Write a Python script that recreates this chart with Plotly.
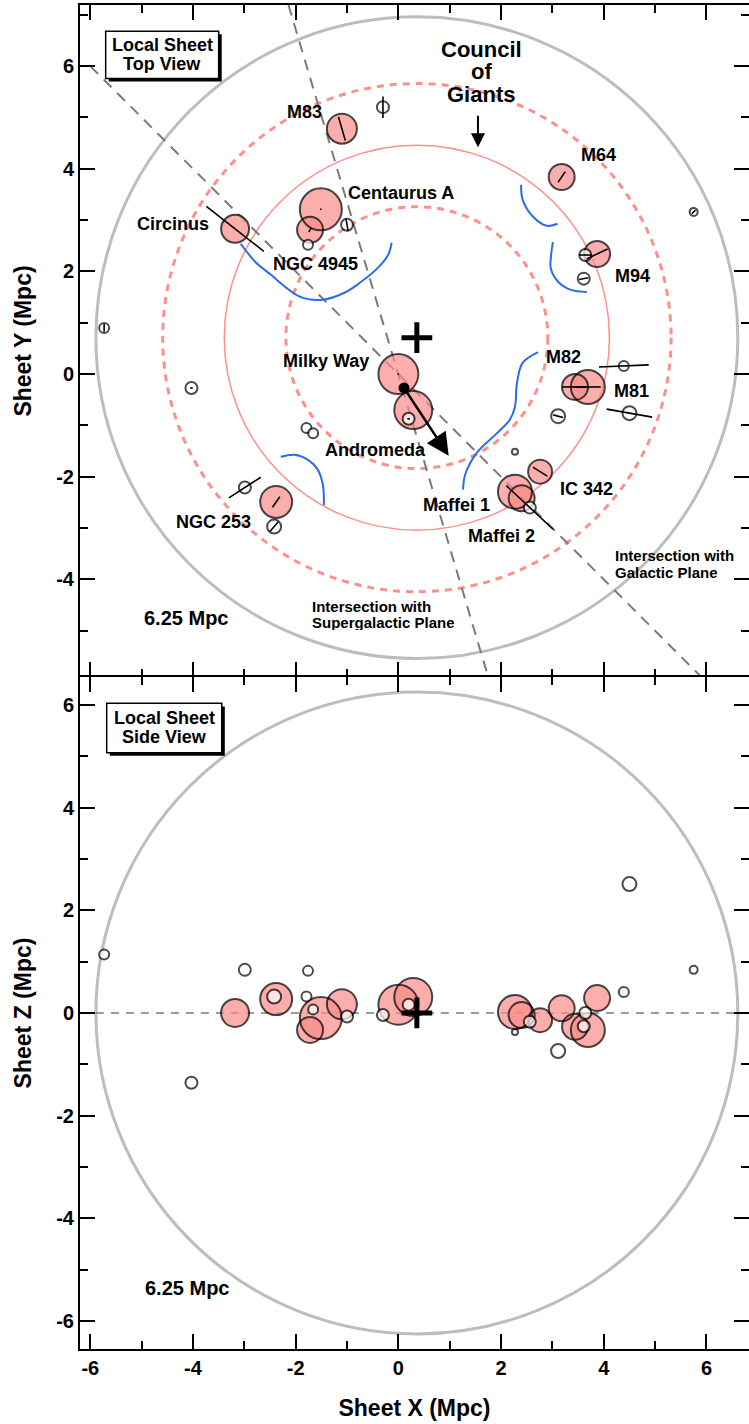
import plotly.graph_objects as go
import numpy as np

# ---------------- data (Mpc) ----------------
gal_name = ["M83", "", "Centaurus A", "NGC 4945", "", "", "Circinus", "M64", "", "M94", "", "",
            "M82", "M81", "", "", "", "", "IC 342", "Maffei 1", "", "Maffei 2", "Milky Way", "Andromeda",
            "", "", "", "", "", "NGC 253", "", ""]
gal_x = [-1.10, -0.30, -1.51, -1.72, -1.00, -1.76, -3.18, 3.18, 5.75, 3.87, 3.64, 3.61,
         3.44, 3.69, 4.39, 4.50, 3.11, 2.27, 2.76, 2.27, 2.40, 2.56, 0.00, 0.29,
         0.20, -1.79, -1.66, -4.03, -5.73, -2.38, -2.42, -2.99]
gal_y = [4.78, 5.20, 3.21, 2.81, 2.91, 2.52, 2.83, 3.84, 3.16, 2.34, 2.32, 1.86,
         -0.25, -0.25, 0.16, -0.76, -0.82, -1.51, -1.90, -2.29, -2.42, -2.60, 0.00, -0.70,
         -0.87, -1.05, -1.15, -0.27, 0.90, -2.49, -2.97, -2.21]
gal_z = [0.17, -0.04, -0.10, -0.33, -0.07, 0.82, 0.00, 0.09, 0.84, 0.29, 0.00, -0.26,
         -0.27, -0.33, 0.41, 2.51, -0.74, -0.37, -0.14, 0.02, -0.04, -0.17, 0.16, 0.31,
         0.16, 0.32, 0.07, -1.36, 1.14, 0.27, 0.32, 0.84]
gal_r = [15, 6, 21, 13, 6, 5, 14, 13, 4, 13, 6, 6,
         13, 17, 5, 7, 7, 3, 12, 17, 13, 6, 20, 19,
         6, 5, 5, 6, 5, 16, 7, 6]
gal_giant = [1, 0, 1, 1, 0, 0, 1, 1, 0, 1, 0, 0,
             1, 1, 0, 0, 0, 0, 1, 1, 1, 0, 1, 1,
             0, 0, 0, 0, 0, 1, 0, 0]
gal_ang = [106, 90, 0, 60, 100, 0, -38, 56, 45, 25, 0, 10,
           0, 0, 2.4, -10, -15, 0, -32, -43, 0, -43, 0, 0,
           0, 0, 0, 0, 90, 55, 50, 33]
gal_len = [0.48, 0.42, 0.03, 0.10, 0.25, 0.0, 1.42, 0.25, 0.10, 0.45, 0.25, 0.18,
           0.50, 0.50, 0.97, 0.90, 0.20, 0.0, 0.33, 0.0, 0.0, 1.25, 0.03, 0.0,
           0.05, 0.0, 0.0, 0.05, 0.15, 0.25, 0.25, 0.74]

ring_cx, ring_cy, ring_cz = 0.36, 0.71, 0.0
ring_r = 3.75
ring_r_in = 2.55
ring_r_out = 4.95
sphere_r = 6.25

gp_x = [-6.0, 5.9]          # galactic plane intersection
gp_y = [6.0, -5.9]
sgp_x = [-2.14, 1.75]       # supergalactic plane intersection
sgp_y = [7.19, -5.9]

arc1_x = [-3.07, -2.79, -2.50, -1.92, -1.47, -1.04, -0.75, -0.40, -0.20, -0.13]
arc1_y = [2.54, 2.19, 1.95, 1.51, 1.45, 1.59, 1.78, 2.07, 2.32, 2.56]
arc2_x = [2.39, 2.42, 2.61, 2.89, 3.10]
arc2_y = [3.69, 3.40, 3.08, 2.89, 2.93]
arc3_x = [3.01, 2.97, 2.97, 3.11, 3.36, 3.67]
arc3_y = [2.57, 2.28, 2.05, 1.80, 1.64, 1.60]
arc4_x = [2.72, 2.42, 2.31, 2.27, 2.17, 1.92, 1.53, 1.30, 1.26]
arc4_y = [0.43, 0.22, -0.17, -0.64, -0.89, -1.15, -1.53, -1.96, -2.25]
arc5_x = [-2.29, -2.02, -1.76, -1.57, -1.47, -1.45]
arc5_y = [-1.61, -1.57, -1.67, -1.86, -2.16, -2.55]

motion_x = [0.11, 0.98]     # Local Sheet motion arrow
motion_y = [-0.27, -1.59]

major_ticks = [-6, -4, -2, 0, 2, 4, 6]
minor_ticks = [-7, -5, -3, -1, 1, 3, 5, 7]

# ---------------- styles ----------------
PINK = "#F98C88"
RING = "#FF8F8C"
GRAY = "#BDBDBD"
DGRAY = "#7A7A7A"
BLUE = "#2B6BF0"
FONT = "Liberation Sans, Arial, Helvetica, sans-serif"

XR = [-6.2, 6.828]
YR1 = [-5.90, 7.19]
YR2 = [-6.544, 6.543]

fig = go.Figure()

gx = np.array(gal_x); gy = np.array(gal_y); gz = np.array(gal_z)
gr = np.array(gal_r); giant = np.array(gal_giant, bool)

def circle_shape(xr, yr, cx, cy, r, color, width, dash=None):
    d = dict(type="circle", xref=xr, yref=yr, x0=cx - r, x1=cx + r, y0=cy - r, y1=cy + r,
             line=dict(color=color, width=width), layer="below")
    if dash:
        d["line"]["dash"] = dash
    return d

shapes = []
shapes.append(circle_shape("x", "y", ring_cx, ring_cy, sphere_r, GRAY, 3))
shapes.append(circle_shape("x", "y", ring_cx, ring_cy, ring_r_out, RING, 3, "7px,6px"))
shapes.append(circle_shape("x", "y", ring_cx, ring_cy, ring_r_in, RING, 3, "7px,6px"))
shapes.append(circle_shape("x", "y", ring_cx, ring_cy, ring_r, RING, 1.5))
shapes.append(circle_shape("x2", "y2", ring_cx, ring_cz, sphere_r, GRAY, 3))

for (xx, yy) in [(gp_x, gp_y), (sgp_x, sgp_y)]:
    fig.add_trace(go.Scatter(x=xx, y=yy, mode="lines", xaxis="x", yaxis="y",
                             line=dict(color=DGRAY, width=2, dash="11px,8px"), hoverinfo="skip"))
fig.add_trace(go.Scatter(x=[ring_cx - sphere_r, ring_cx + sphere_r], y=[ring_cz, ring_cz], mode="lines",
                         xaxis="x2", yaxis="y2", line=dict(color=DGRAY, width=1.5, dash="8px,7px"),
                         hoverinfo="skip"))

for ax_, ay_ in [(arc1_x, arc1_y), (arc2_x, arc2_y), (arc3_x, arc3_y), (arc4_x, arc4_y), (arc5_x, arc5_y)]:
    fig.add_trace(go.Scatter(x=ax_, y=ay_, mode="lines", xaxis="x", yaxis="y",
                             line=dict(color=BLUE, width=2, shape="spline", smoothing=1.0), hoverinfo="skip"))

def galaxies(xv, yv, xa, ya):
    fig.add_trace(go.Scatter(x=xv[giant], y=yv[giant], mode="markers", xaxis=xa, yaxis=ya,
                             marker=dict(size=2 * gr[giant], color=PINK, line=dict(width=0)), hoverinfo="skip"))
    fig.add_trace(go.Scatter(x=xv[giant], y=yv[giant], mode="markers", xaxis=xa, yaxis=ya,
                             marker=dict(size=2 * gr[giant], color="rgba(0,0,0,0)",
                                         line=dict(width=2, color="black")), hoverinfo="skip"))
    fig.add_trace(go.Scatter(x=xv[~giant], y=yv[~giant], mode="markers", xaxis=xa, yaxis=ya,
                             marker=dict(size=2 * gr[~giant], color="white",
                                         line=dict(width=2, color="black")), hoverinfo="skip"))

galaxies(gx, gy, "x", "y")

lx, ly = [], []
for x0, y0, a, L in zip(gal_x, gal_y, gal_ang, gal_len):
    if L <= 0:
        continue
    t = np.deg2rad(a)
    lx += [x0 - 0.5 * L * np.cos(t), x0 + 0.5 * L * np.cos(t), None]
    ly += [y0 - 0.5 * L * np.sin(t), y0 + 0.5 * L * np.sin(t), None]
fig.add_trace(go.Scatter(x=lx, y=ly, mode="lines", xaxis="x", yaxis="y",
                         line=dict(color="black", width=1.6), hoverinfo="skip"))

fig.add_trace(go.Scatter(x=[motion_x[0]], y=[motion_y[0]], mode="markers", xaxis="x", yaxis="y",
                         marker=dict(size=11, color="black"), hoverinfo="skip"))
fig.add_trace(go.Scatter(x=[ring_cx], y=[ring_cy], mode="markers", xaxis="x", yaxis="y",
                         marker=dict(symbol="cross-thin", size=22, line=dict(width=5, color="black")),
                         hoverinfo="skip"))

galaxies(gx, gz, "x2", "y2")
fig.add_trace(go.Scatter(x=[ring_cx], y=[ring_cz], mode="markers", xaxis="x2", yaxis="y2",
                         marker=dict(symbol="cross-thin", size=22, line=dict(width=5, color="black")),
                         hoverinfo="skip"))

# invisible traces for the extra tick-only / frame axes
fig.add_trace(go.Scatter(x=[0], y=[0], mode="markers", xaxis="x", yaxis="y3", marker=dict(opacity=0),
                         hoverinfo="skip"))
fig.add_trace(go.Scatter(x=[0], y=[0], mode="markers", xaxis="x2", yaxis="y4", marker=dict(opacity=0),
                         hoverinfo="skip"))
fig.add_trace(go.Scatter(x=[0], y=[0], mode="markers", xaxis="x3", yaxis="y", marker=dict(opacity=0),
                         hoverinfo="skip"))

# ---------------- annotations ----------------
ann = []
def txt(x, y, s, size=17, xref="x", yref="y", xanchor="center", h=None):
    d = dict(x=x, y=y, xref=xref, yref=yref, text=s, showarrow=False, xanchor=xanchor,
             yanchor="middle", font=dict(family=FONT, size=size, color="black", weight="bold"))
    if h:
        d["height"] = h
    ann.append(d)

labels = [("M83", -1.82, 5.11), ("Centaurus A", 0.05, 3.52), ("Circinus", -4.39, 2.92),
          ("NGC 4945", -1.61, 2.15), ("M64", 3.90, 4.27), ("M94", 4.55, 1.91), ("M82", 3.22, 0.34),
          ("M81", 4.53, -0.32), ("IC 342", 3.67, -2.24), ("Maffei 1", 1.14, -2.54),
          ("Maffei 2", 2.00, -3.15), ("Milky Way", -1.41, 0.26), ("Andromeda", -0.44, -1.47),
          ("NGC 253", -3.61, -2.88)]
for s, x, y in labels:
    txt(x, y, s, 18)

txt(-4.14, -4.75, "6.25 Mpc", 20)
txt(-4.12, -5.36, "6.25 Mpc", 20, "x2", "y2")
txt(-1.72, -4.53, "Intersection with", 15, xanchor="left", h=15)
txt(-1.72, -4.83, "Supergalactic Plane", 15, xanchor="left", h=15)
txt(4.18, -3.52, "Intersection with", 15, xanchor="left", h=16)
txt(4.18, -3.85, "Galactic Plane", 15, xanchor="left", h=16)
txt(1.61, 6.32, "Council", 22, h=21)
txt(1.61, 5.89, "of", 22, h=21)
txt(1.61, 5.44, "Giants", 22, h=21)

def box(x0, x1, y0, y1, yref):
    off = 0.06
    shapes.append(dict(type="rect", xref="x", yref=yref, x0=x0 + off, x1=x1 + off, y0=y0 - off, y1=y1 - off,
                       fillcolor="black", line=dict(width=0), layer="above"))
    shapes.append(dict(type="rect", xref="x", yref=yref, x0=x0, x1=x1, y0=y0, y1=y1,
                       fillcolor="white", line=dict(width=1.5, color="black"), layer="above"))
box(-5.70, -3.50, 5.76, 6.68, "y")
box(-5.68, -3.44, 5.07, 6.03, "y2")
txt(-4.60, 6.41, "Local Sheet", 18, h=18)
txt(-4.60, 6.05, "Top View", 18, h=18)
txt(-4.56, 5.74, "Local Sheet", 18, "x2", "y2", h=18)
txt(-4.56, 5.37, "Side View", 18, "x2", "y2", h=18)

ann.append(dict(x=motion_x[1], y=motion_y[1], ax=motion_x[0], ay=motion_y[0], xref="x", yref="y",
                axref="x", ayref="y", showarrow=True, arrowhead=2, arrowsize=1.8, arrowwidth=2.5,
                arrowcolor="black", text=""))
ann.append(dict(x=1.55, y=4.42, ax=1.55, ay=5.06, xref="x", yref="y", axref="x", ayref="y",
                showarrow=True, arrowhead=2, arrowsize=1.4, arrowwidth=2, arrowcolor="black", text=""))

# ---------------- axes ----------------
tickfont = dict(family=FONT, size=20, color="black", weight="bold")
titlefont = dict(family=FONT, size=23, color="black", weight="bold")
minor = dict(tickvals=minor_ticks, ticklen=8, tickwidth=2, tickcolor="black", ticks="inside")
tickonly = dict(showgrid=False, zeroline=False, ticks="inside", ticklen=15, tickwidth=2, tickcolor="black",
                minor=minor)
common = dict(showline=True, linewidth=2, linecolor="black", **tickonly)

fig.update_layout(
    width=749, height=1424, margin=dict(l=80, r=0, t=5, b=75),
    paper_bgcolor="white", plot_bgcolor="white", showlegend=False,
    shapes=shapes, annotations=ann,
    xaxis=dict(domain=[0, 1], anchor="y", range=XR, tickvals=major_ticks, showticklabels=False,
               showline=False, **tickonly),
    xaxis3=dict(overlaying="x", side="top", anchor="y", range=XR, tickvals=major_ticks,
                showticklabels=False, **common),
    yaxis=dict(domain=[0.5, 1], anchor="x", range=YR1, tickvals=major_ticks,
               ticktext=[str(v) for v in major_ticks], tickfont=tickfont,
               title=dict(text="Sheet Y (Mpc)", font=titlefont, standoff=18), **common),
    xaxis2=dict(domain=[0, 1], anchor="y2", range=XR, tickvals=major_ticks,
                ticktext=[str(v) for v in major_ticks], tickfont=tickfont, mirror="ticks",
                title=dict(text="Sheet X (Mpc)", font=titlefont, standoff=22), **common),
    yaxis2=dict(domain=[0, 0.5], anchor="x2", range=YR2, tickvals=major_ticks,
                ticktext=[str(v) for v in major_ticks], tickfont=tickfont,
                title=dict(text="Sheet Z (Mpc)", font=titlefont, standoff=18), **common),
    yaxis3=dict(overlaying="y", side="right", anchor="x", range=YR1, tickvals=major_ticks,
                showticklabels=False, showline=False, **tickonly),
    yaxis4=dict(overlaying="y2", side="right", anchor="x2", range=YR2, tickvals=major_ticks,
                showticklabels=False, showline=False, **tickonly),
)

fig.write_html("out.html")
